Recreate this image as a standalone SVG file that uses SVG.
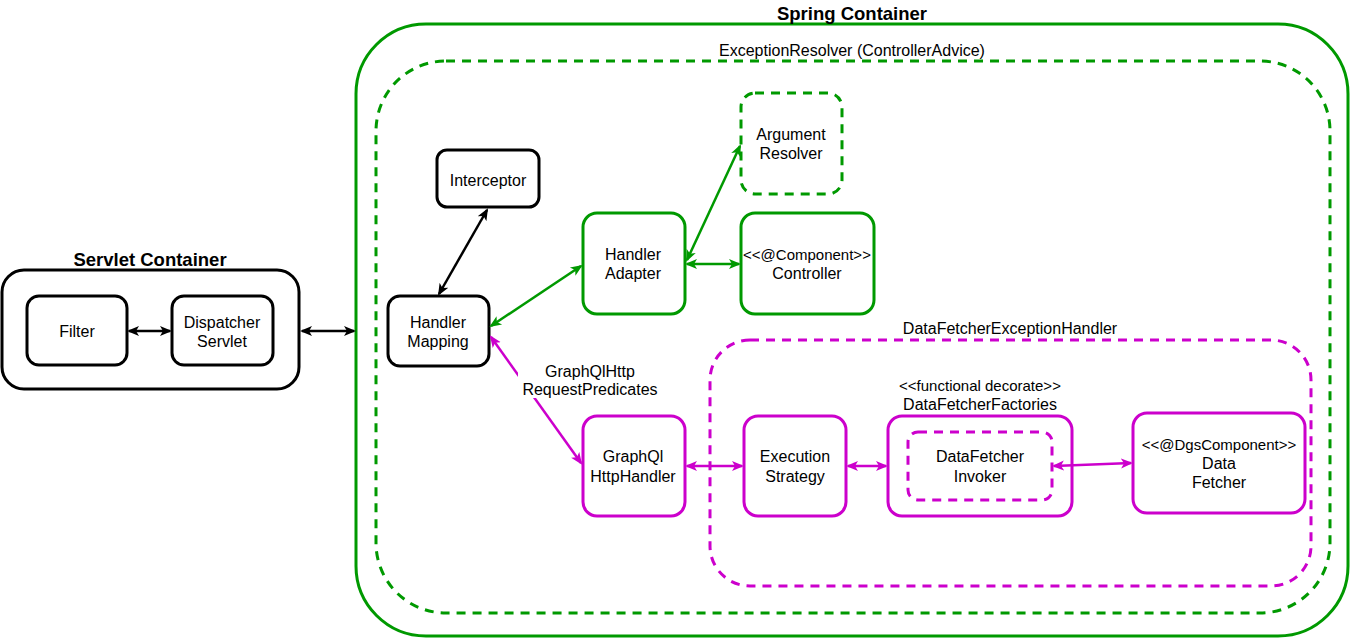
<svg xmlns="http://www.w3.org/2000/svg" width="1350" height="639" viewBox="0 0 1350 639">
<defs>
<style>
text{font-family:"Liberation Sans",Arial,sans-serif;font-size:16px;fill:#000;text-anchor:middle}
.t{font-weight:bold;font-size:18.5px}
.s{font-size:15px}
.bk{fill:#fff;stroke:#000;stroke-width:3}
.gr{fill:#fff;stroke:#009900;stroke-width:3}
.mg{fill:#fff;stroke:#CC00CC;stroke-width:3}
.grd{fill:none;stroke:#009900;stroke-width:3;stroke-dasharray:9 7}
.mgd{fill:none;stroke:#CC00CC;stroke-width:3;stroke-dasharray:9 7}
.cb{stroke:#000;stroke-width:2.5;fill:none;marker-start:url(#ab);marker-end:url(#ab)}
.cg{stroke:#009900;stroke-width:2.5;fill:none;marker-start:url(#ag);marker-end:url(#ag)}
.cm{stroke:#CC00CC;stroke-width:2.5;fill:none;marker-start:url(#am);marker-end:url(#am)}
</style>
<marker id="ab" viewBox="0 0 12 12" refX="10" refY="6" markerWidth="12" markerHeight="12" markerUnits="userSpaceOnUse" orient="auto-start-reverse"><path d="M0,1 L12,6 L0,11 L3,6 z" fill="#000"/></marker>
<marker id="ag" viewBox="0 0 12 12" refX="10" refY="6" markerWidth="12" markerHeight="12" markerUnits="userSpaceOnUse" orient="auto-start-reverse"><path d="M0,1 L12,6 L0,11 L3,6 z" fill="#009900"/></marker>
<marker id="am" viewBox="0 0 12 12" refX="10" refY="6" markerWidth="12" markerHeight="12" markerUnits="userSpaceOnUse" orient="auto-start-reverse"><path d="M0,1 L12,6 L0,11 L3,6 z" fill="#CC00CC"/></marker>
</defs>
<rect width="1350" height="639" fill="#fff"/>

<g id="servlet-container">
<rect class="bk" x="2" y="270" width="297" height="119" rx="22"/>
<text class="t" x="150" y="266">Servlet Container</text>
</g>
<g id="spring-container">
<rect class="gr" x="356" y="24" width="992" height="612" rx="70"/>
<text class="t" x="852" y="20">Spring Container</text>
</g>
<g id="exception-resolver">
<rect class="grd" x="376" y="61" width="954" height="552" rx="70"/>
<text x="852" y="56">ExceptionResolver (ControllerAdvice)</text>
</g>
<g id="datafetcher-exception-handler">
<rect class="mgd" x="710" y="340" width="601" height="246" rx="40"/>
<text x="1010" y="334">DataFetcherExceptionHandler</text>
</g>

<g id="filter">
<rect class="bk" x="27" y="296" width="100" height="69" rx="12"/>
<text x="77" y="337">Filter</text>
</g>
<g id="dispatcher-servlet">
<rect class="bk" x="172" y="296" width="101" height="69" rx="12"/>
<text x="222" y="328">Dispatcher</text>
<text x="222" y="347">Servlet</text>
</g>
<g id="interceptor">
<rect class="bk" x="437" y="150" width="102" height="57" rx="10"/>
<text x="488" y="186">Interceptor</text>
</g>
<g id="handler-mapping">
<rect class="bk" x="388" y="296" width="101" height="70" rx="12"/>
<text x="438" y="328">Handler</text>
<text x="438" y="347">Mapping</text>
</g>
<g id="argument-resolver">
<rect class="grd" x="741" y="93" width="101" height="101" rx="14"/>
<text x="791" y="140">Argument</text>
<text x="791" y="159">Resolver</text>
</g>
<g id="handler-adapter">
<rect class="gr" x="583" y="213" width="102" height="101" rx="14"/>
<text x="633" y="260">Handler</text>
<text x="633" y="279">Adapter</text>
</g>
<g id="controller">
<rect class="gr" x="741" y="213" width="133" height="101" rx="14"/>
<text class="s" x="807" y="260">&lt;&lt;@Component&gt;&gt;</text>
<text x="807" y="279">Controller</text>
</g>
<g id="graphql-httphandler">
<rect class="mg" x="583" y="416" width="102" height="100" rx="14"/>
<text x="633" y="462">GraphQl</text>
<text x="633" y="482">HttpHandler</text>
</g>
<g id="execution-strategy">
<rect class="mg" x="744" y="416" width="102" height="100" rx="14"/>
<text x="795" y="462">Execution</text>
<text x="795" y="482">Strategy</text>
</g>
<g id="datafetcher-factories">
<rect class="mg" x="888" y="416" width="184" height="100" rx="14"/>
<text class="s" x="980" y="391">&lt;&lt;functional decorate&gt;&gt;</text>
<text x="980" y="410">DataFetcherFactories</text>
</g>
<g id="datafetcher-invoker">
<rect class="mgd" x="908" y="432" width="144" height="68" rx="10"/>
<text x="980" y="462">DataFetcher</text>
<text x="980" y="482">Invoker</text>
</g>
<g id="data-fetcher">
<rect class="mg" x="1133" y="413" width="172" height="100" rx="14"/>
<text class="s" x="1219" y="450">&lt;&lt;@DgsComponent&gt;&gt;</text>
<text x="1219" y="469">Data</text>
<text x="1219" y="488">Fetcher</text>
</g>

<g id="connectors">
<line class="cb" x1="129" y1="331" x2="170" y2="331"/>
<line class="cb" x1="302" y1="331" x2="354" y2="331"/>
<line class="cb" x1="487" y1="210" x2="439" y2="294"/>
<line class="cg" x1="491" y1="326" x2="581" y2="266"/>
<line class="cg" x1="687" y1="260" x2="740" y2="146"/>
<line class="cg" x1="687" y1="264" x2="739" y2="264"/>
<line class="cm" x1="491" y1="337" x2="581" y2="463"/>
<line class="cm" x1="687" y1="466" x2="742" y2="466"/>
<line class="cm" x1="848" y1="466" x2="886" y2="466"/>
<line class="cm" x1="1054" y1="466" x2="1131" y2="463"/>
<rect x="518" y="362" width="144" height="36" fill="#fff"/>
<text x="590" y="377">GraphQlHttp</text>
<text x="590" y="395">RequestPredicates</text>
</g>
</svg>
